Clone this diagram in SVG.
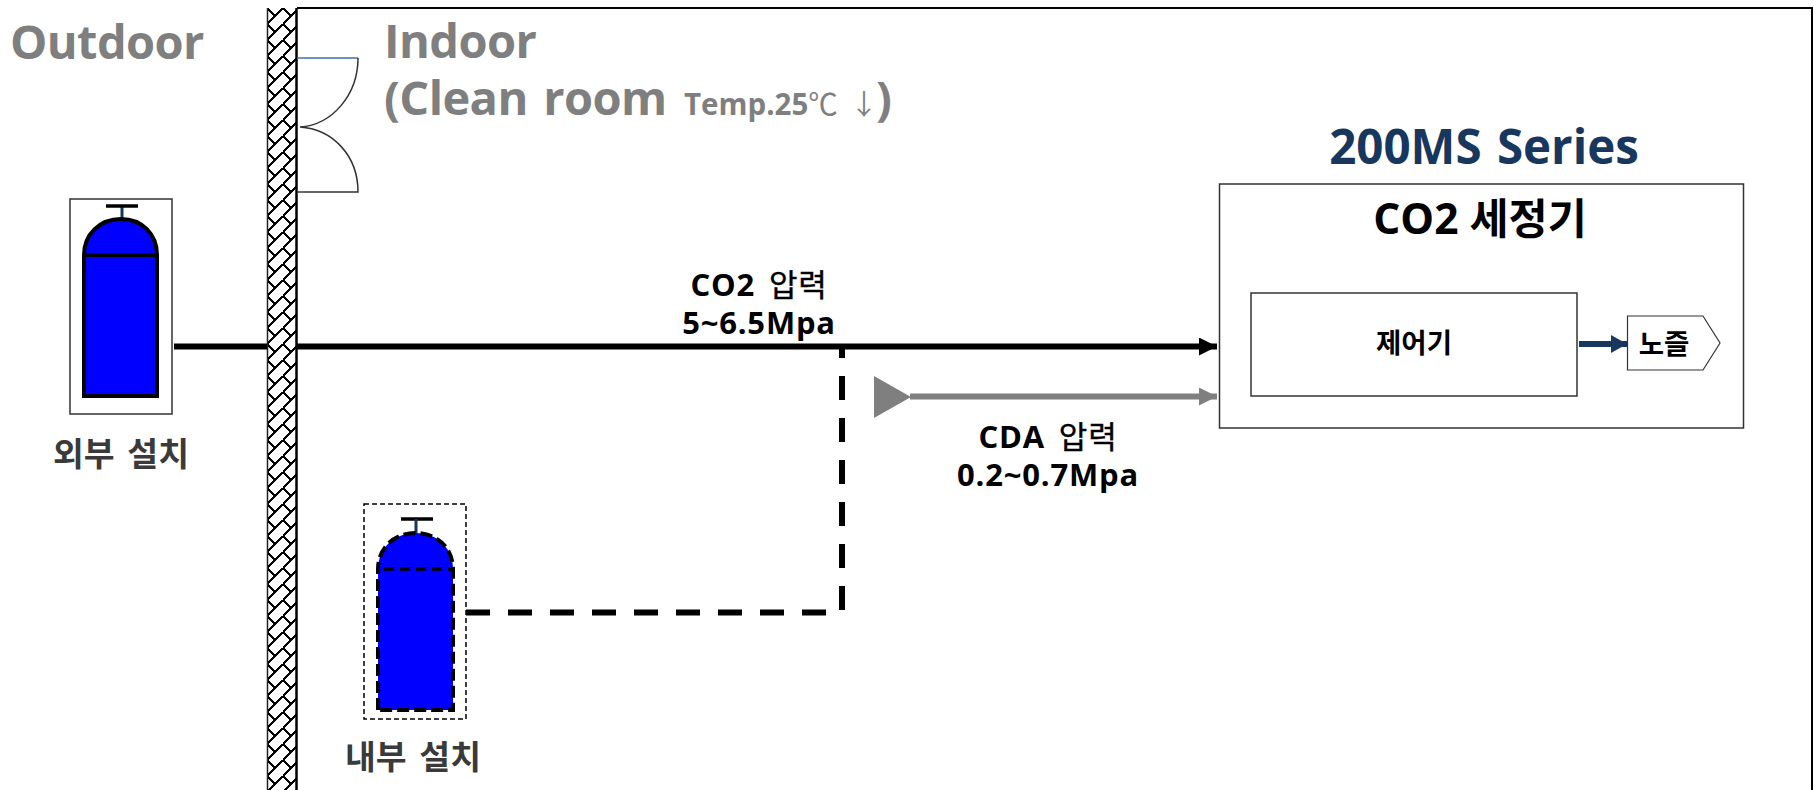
<svg xmlns="http://www.w3.org/2000/svg" width="1814" height="790" viewBox="0 0 1814 790">
<style>
text{font-family:"Open Sans","Noto Sans CJK KR",sans-serif;font-weight:700}
.zone{fill:#7f7f7f;font-size:47px;letter-spacing:-.6px}
.lbl{fill:#000;font-size:31px;letter-spacing:.8px;text-anchor:middle;word-spacing:5px}
.lt{font-weight:400;font-family:"Noto Sans CJK KR",sans-serif;stroke:#000;stroke-width:.4px}
.sit{fill:#3a3a3a;font-size:33.500px;text-anchor:middle;word-spacing:4px}
.box{fill:#fff;stroke:#333;stroke-width:1.5}
.body{fill:#0000ff;stroke:#000;stroke-width:4}
.thin{fill:none;stroke:#333;stroke-width:1.5}
.dash{fill:none;stroke:#000;stroke-width:6;stroke-dasharray:24 18}
</style>
<defs>
<pattern id="hatch" patternUnits="userSpaceOnUse" x="267" y="8" width="16" height="16">
<rect width="16" height="16" fill="#fff"/>
<path d="M0 16L16 0M0 0L8 8" stroke="#000" stroke-width="1.600" fill="none" shape-rendering="crispEdges"/>
</pattern>
<marker id="ab" markerUnits="userSpaceOnUse" markerWidth="18" markerHeight="18" refX="18" refY="9" orient="auto"><path d="M0 0L18 9L0 18Z" fill="#000"/></marker>
<marker id="ag" markerUnits="userSpaceOnUse" markerWidth="18" markerHeight="18" refX="18" refY="9" orient="auto"><path d="M0 0L18 9L0 18Z" fill="#7f7f7f"/></marker>
<marker id="an" markerUnits="userSpaceOnUse" markerWidth="16" markerHeight="18" refX="16" refY="9" orient="auto"><path d="M0 0L16 9L0 18Z" fill="#17375e"/></marker>
</defs>

<g id="room">
<path d="M297 8H1812V790" fill="none" stroke="#000" stroke-width="2"/>
</g>
<g id="wall">
<rect x="267.500" y="8" width="29" height="790" fill="url(#hatch)"/>
<path d="M267.500 8V790" stroke="#222" stroke-width="1.500" fill="none"/>
<path d="M296.500 8V790" stroke="#000" stroke-width="2.500" fill="none"/>
</g>
<g id="door">
<path d="M297 58H358" fill="none" stroke="#41719c" stroke-width="1.5"/>
<path d="M358 58C358 95 332 125 300 127C332 129 358 155 358 192H297" class="thin"/>
</g>

<g id="outdoor-label"><text class="zone" x="10" y="59">Outdoor</text></g>
<g id="indoor-label">
<text class="zone"><tspan x="384" y="58">Indoor</tspan><tspan x="384" y="115" word-spacing="4">(Clean room</tspan><tspan x="684" y="115" font-size="29.500" letter-spacing="0">Temp.25</tspan><tspan font-size="29.500" font-weight="400" font-family="Noto Sans CJK KR">℃</tspan><tspan x="850" y="115" font-size="28" font-weight="400">↓</tspan><tspan x="876" y="115">)</tspan></text>
</g>

<g id="cylinder-outside">
<rect class="box" x="70" y="199" width="102" height="215"/>
<path d="M122 206V219" fill="none" stroke="#17375e" stroke-width="3"/>
<path d="M106 206H138" fill="none" stroke="#000" stroke-width="3.500"/>
<path class="body" d="M84 396V255C84 234 100 219 121 219C142 219 157 234 157 255V396Z"/>
<path d="M84 255H157" fill="none" stroke="#000" stroke-width="4"/>
<text class="sit" x="121" y="466">외부 설치</text>
</g>

<g id="cylinder-inside">
<rect x="364" y="504" width="102" height="215" fill="#fff" stroke="#000" stroke-width="1.500" stroke-dasharray="5 3"/>
<path d="M401 519H433" fill="none" stroke="#000" stroke-width="3.500"/>
<path d="M416 519V533" fill="none" stroke="#17375e" stroke-width="3"/>
<path d="M378 710V569C378 548 394 533 416 533C437 533 453 548 453 569V710Z" fill="#0000ff" stroke="#000" stroke-width="4" stroke-dasharray="12 5"/>
<path d="M384 569H453" fill="none" stroke="#000" stroke-width="3.500" stroke-dasharray="10 6"/>
<text class="sit" x="413" y="769">내부 설치</text>
</g>

<g id="co2-label">
<text class="lbl"><tspan x="759" y="296">CO2 <tspan class="lt">압력</tspan></tspan><tspan x="759" y="334">5~6.5Mpa</tspan></text>
</g>
<g id="cda-label">
<text class="lbl"><tspan x="1048" y="448">CDA <tspan class="lt">압력</tspan></tspan><tspan x="1048" y="486">0.2~0.7Mpa</tspan></text>
</g>

<g id="series-label"><text x="1484" y="164" font-size="47.500" fill="#17375e" text-anchor="middle" word-spacing="3">200MS Series</text></g>
<g id="washer">
<rect class="box" x="1219.500" y="184" width="524" height="244"/>
<text x="1480" y="234" font-size="42.500" fill="#000" text-anchor="middle">CO2 세정기</text>
</g>
<g id="controller">
<rect class="box" x="1251" y="293" width="326" height="103"/>
<text x="1414" y="353" font-size="27.500" fill="#000" text-anchor="middle">제어기</text>
</g>
<g id="nozzle">
<path d="M1627.500 316H1703L1720 343L1703 370H1627.500Z" fill="#fff" stroke="#333" stroke-width="1.2"/>
<text x="1664" y="354" font-size="27.500" fill="#000" text-anchor="middle">노즐</text>
</g>

<g id="connectors">
<path d="M174 346.500H267M297 346.500H1217" fill="none" stroke="#000" stroke-width="6" marker-end="url(#ab)"/>
<path class="dash" d="M466 612.500H826"/>
<path class="dash" d="M842 349V610" stroke-dashoffset="15"/>
<path d="M910 396.500H1217" fill="none" stroke="#7f7f7f" stroke-width="6" marker-end="url(#ag)"/>
<path d="M874 376L911 397L874 418Z" fill="#7f7f7f"/>
<path d="M1579 344H1627" fill="none" stroke="#17375e" stroke-width="6" marker-end="url(#an)"/>
</g>
</svg>
